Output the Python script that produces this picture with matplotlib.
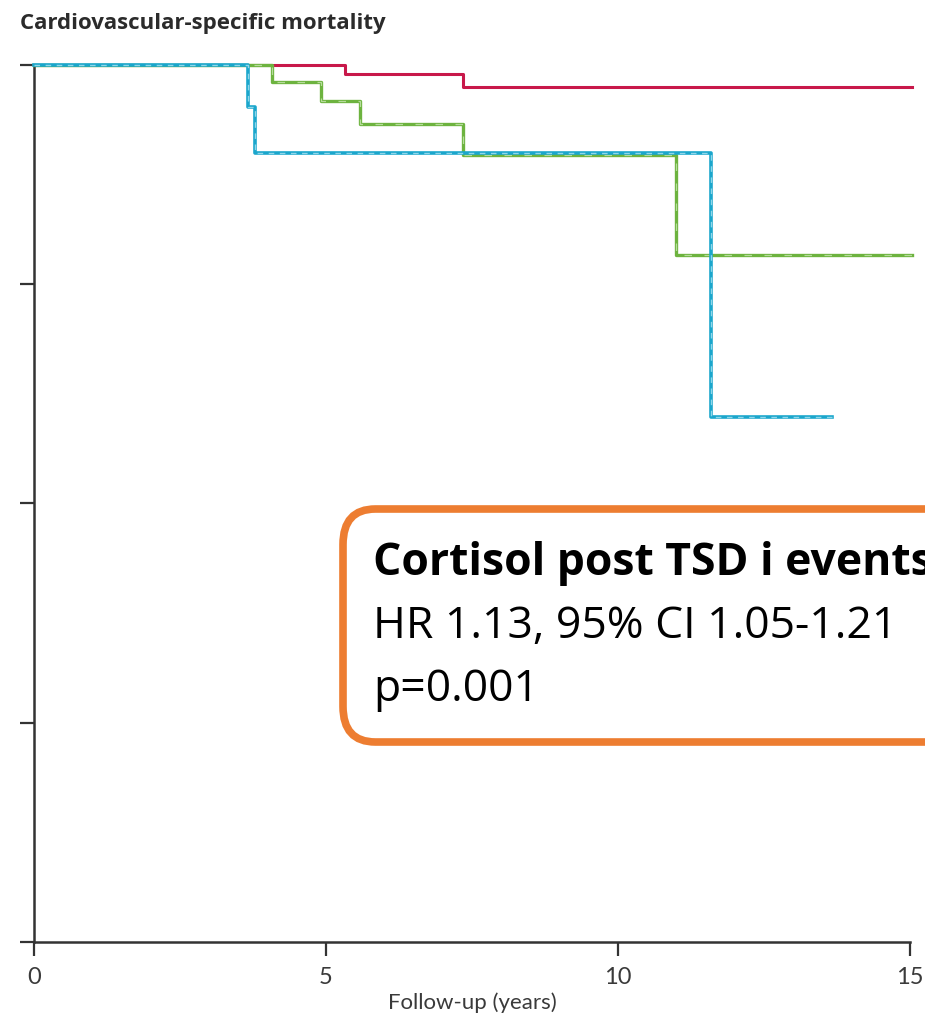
import matplotlib
matplotlib.use("Agg")
import matplotlib.pyplot as plt
from matplotlib.patches import FancyBboxPatch

# Kaplan-Meier step data (time in years, survival)
red_t = [0.0, 5.33, 7.34, 15.03]
red_s = [1.0, 0.9978, 0.9948, 0.9948]

green_t = [0.0, 4.08, 4.92, 5.59, 7.34, 11.0, 15.03]
green_s = [1.0, 0.9961, 0.9916, 0.9865, 0.9794, 0.9565, 0.9565]

blue_t = [0.0, 3.67, 3.79, 11.59, 13.67]
blue_s = [1.0, 0.9902, 0.9799, 0.9197, 0.9197]

x_ticks = [0, 5, 10, 15]
y_ticks = [0.80, 0.85, 0.90, 0.95, 1.00]

title = "Cardiovascular-specific mortality"
xlabel = "Follow-up (years)"
box_lines = ["Cortisol post TSD i events", "HR 1.13, 95% CI 1.05-1.21", "p=0.001"]

fig = plt.figure(figsize=(9.25, 10.17), dpi=100)
ax = fig.add_axes([34 / 925, 75 / 1017, 876 / 925, 877.5 / 1017])

axis_col = "#333333"

ax.step(red_t, red_s, where="post", color="#C8184A", lw=2.2, clip_on=False, zorder=3)
ax.step(green_t, green_s, where="post", color="#6DB33F", lw=2.4, clip_on=False, zorder=3)
ax.step(green_t, green_s, where="post", color="#B5DB9A", lw=0.9, dashes=(6, 10),
        clip_on=False, zorder=4)
ax.step(blue_t, blue_s, where="post", color="#1AA6CC", lw=2.6, clip_on=False, zorder=5)
ax.step(blue_t, blue_s, where="post", color="#8FD6EA", lw=1.0, dashes=(4, 4),
        clip_on=False, zorder=6)

ax.set_xlim(0, 15)
ax.set_ylim(0.8, 1.0)
ax.set_xticks(x_ticks)
ax.set_yticks(y_ticks)
ax.set_yticklabels([])
ax.set_xticklabels([str(v) for v in x_ticks], fontsize=17, color="#3a3a3a",
                   family="Lato")

for side in ["top", "right"]:
    ax.spines[side].set_visible(False)
for side in ["left", "bottom"]:
    ax.spines[side].set_color(axis_col)
    ax.spines[side].set_linewidth(1.8)
ax.tick_params(direction="out", length=10, width=1.6, color=axis_col, pad=8)

ax.set_xlabel(xlabel, fontsize=16, color="#3a3a3a", family="Lato", labelpad=3)

fig.text(20 / 925, 1 - 24 / 1017, title, fontsize=16, fontweight="bold",
         color="#2b2b2b", family="Open Sans", va="center", ha="left")

# orange annotation box (runs off the right edge of the figure)
box = FancyBboxPatch((343 / 925, 1 - 742 / 1017), 700 / 925, 233 / 1017,
                     boxstyle="round,pad=0,rounding_size=0.035",
                     transform=fig.transFigure, facecolor="white",
                     edgecolor="#ED7D31", lw=5.5, zorder=10)
fig.patches.append(box)

ys = [563, 627, 690]
for i, (line, yy) in enumerate(zip(box_lines, ys)):
    fig.text(373 / 925, 1 - yy / 1017, line, fontsize=32,
             fontweight="bold" if i == 0 else "normal",
             color="black", family="Open Sans", va="center", ha="left", zorder=11)

fig.savefig("out.png", dpi=100)
